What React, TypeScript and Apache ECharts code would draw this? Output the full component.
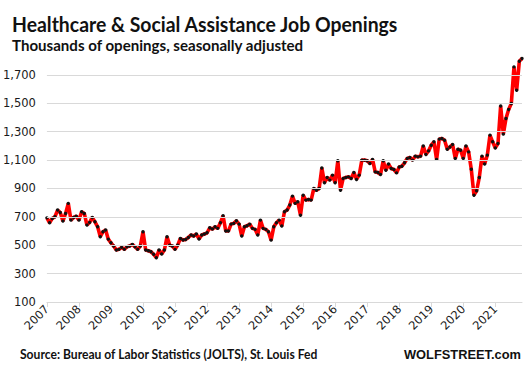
import React, { useEffect, useRef } from "react";
import * as echarts from "echarts";

// Monthly job openings (thousands), Jan 2007 – Nov 2021
const years = ["2007", "2008", "2009", "2010", "2011", "2012", "2013", "2014", "2015", "2016", "2017", "2018", "2019", "2020", "2021"];
const y2007 = [693, 658, 689, 701, 748, 731, 670, 724, 795, 677, 696, 705];
const y2008 = [677, 736, 724, 642, 661, 696, 665, 630, 560, 595, 607, 543];
const y2009 = [517, 494, 466, 471, 485, 471, 489, 494, 506, 489, 471, 494];
const y2010 = [595, 466, 461, 454, 436, 412, 466, 438, 466, 560, 501, 494];
const y2011 = [471, 501, 548, 537, 541, 555, 572, 565, 579, 544, 572, 579];
const y2012 = [588, 623, 614, 630, 619, 658, 708, 600, 600, 649, 654, 672];
const y2013 = [649, 565, 630, 637, 649, 619, 612, 572, 677, 619, 612, 595];
const y2014 = [536, 630, 658, 677, 635, 736, 748, 783, 846, 795, 806, 712];
const y2015 = [853, 818, 823, 818, 900, 888, 900, 1045, 940, 978, 959, 994];
const y2016 = [940, 1095, 888, 971, 978, 982, 971, 1013, 964, 994, 1100, 1100];
const y2017 = [1095, 1076, 1105, 1017, 1013, 999, 1095, 1029, 1072, 1041, 1034, 1010];
const y2018 = [1052, 1057, 1081, 1112, 1119, 1100, 1128, 1123, 1128, 1200, 1140, 1165];
const y2019 = [1205, 1229, 1105, 1248, 1252, 1240, 1177, 1193, 1210, 1112, 1177, 1170];
const y2020 = [1112, 1200, 1158, 1036, 853, 884, 978, 1128, 1072, 1135, 1276, 1229];
const y2021 = [1186, 1217, 1482, 1283, 1393, 1457, 1499, 1757, 1592, 1797, 1816];

const yearly = [y2007, y2008, y2009, y2010, y2011, y2012, y2013, y2014, y2015, y2016, y2017, y2018, y2019, y2020, y2021];
const yTicks = [100, 300, 500, 700, 900, 1100, 1300, 1500, 1700];

const titleText = "Healthcare & Social Assistance Job Openings";
const subtitleText = "Thousands of openings, seasonally adjusted";
const sourceText = "Source: Bureau of Labor Statistics (JOLTS), St. Louis Fed";
const brandText = "WOLFSTREET.com";

function fitScale(text: string, font: string, target: number): number {
  const ctx = document.createElement("canvas").getContext("2d");
  if (!ctx) return 1;
  ctx.font = font;
  const w = ctx.measureText(text).width;
  return w > 0 ? target / w : 1;
}

export default function App() {
  const ref = useRef<HTMLDivElement>(null);

  useEffect(() => {
    if (!ref.current) return;
    const chart = echarts.init(ref.current, undefined, { renderer: "svg" });

    const labels: string[] = [];
    const values: number[] = [];
    yearly.forEach((arr, yi) => {
      arr.forEach((v, m) => {
        labels.push(`${years[yi]}-${String(m + 1).padStart(2, "0")}`);
        values.push(v);
      });
    });

    const titleFont = "bold 20px Lato";
    const subFont = "bold 15px Lato";
    const srcFont = "bold 12.5px Lato";
    const brandFont = "bold 13px 'Liberation Sans'";

    chart.setOption({
      animation: false,
      backgroundColor: "#ffffff",
      grid: { left: 44, right: 5, top: 46.6, bottom: 71, containLabel: false },
      xAxis: {
        type: "category",
        boundaryGap: false,
        data: labels,
        axisLine: { show: true, lineStyle: { color: "#d9d9d9", width: 1 } },
        axisTick: {
          show: true,
          interval: (i: number) => i % 12 === 0,
          length: 5,
          lineStyle: { color: "#d9d9d9" },
        },
        axisLabel: {
          interval: (i: number) => i % 12 === 0,
          rotate: 45,
          margin: 5,
          formatter: (v: string) => v.slice(0, 4),
          fontSize: 11.5,
          fontFamily: "DejaVu Sans",
          color: "#1a1a1a",
        },
        splitLine: { show: false },
      },
      yAxis: {
        type: "value",
        min: 100,
        max: 1900,
        interval: 200,
        axisLine: { show: false },
        axisTick: { show: false },
        splitLine: { show: false },
        axisLabel: {
          showMaxLabel: false,
          margin: 11,
          formatter: (v: number) => v.toLocaleString("en-US"),
          fontSize: 11.5,
          fontFamily: "DejaVu Sans",
          color: "#1a1a1a",
        },
      },
      series: [
        {
          type: "line",
          data: [],
          z: 1,
          silent: true,
          markLine: {
            silent: true,
            symbol: "none",
            label: { show: false },
            lineStyle: { color: "#d9d9d9", width: 1, type: "solid" },
            data: yTicks.slice(1).map((v) => ({ yAxis: v })),
          },
        },
        {
          type: "line",
          data: values,
          z: 3,
          showSymbol: true,
          showAllSymbol: true,
          symbol: "circle",
          symbolSize: 3.4,
          itemStyle: { color: "#111111", borderWidth: 0 },
          lineStyle: { color: "#ff0000", width: 3.6 },
        },
      ],
      graphic: [
        {
          type: "text",
          x: 12,
          y: 24,
          scaleX: fitScale(titleText, titleFont, 387),
          style: {
            text: titleText,
            fontSize: 20,
            fontWeight: "bold",
            fontFamily: "Lato",
            fill: "#111111",
            verticalAlign: "middle",
            align: "left",
          },
        },
        {
          type: "text",
          x: 12,
          y: 45,
          scaleX: fitScale(subtitleText, subFont, 292),
          style: {
            text: subtitleText,
            fontSize: 15,
            fontWeight: "bold",
            fontFamily: "Lato",
            fill: "#111111",
            verticalAlign: "middle",
            align: "left",
          },
        },
        {
          type: "text",
          x: 20,
          y: 354,
          scaleX: fitScale(sourceText, srcFont, 298),
          style: {
            text: sourceText,
            fontSize: 12.5,
            fontWeight: "bold",
            fontFamily: "Lato",
            fill: "#111111",
            verticalAlign: "middle",
            align: "left",
          },
        },
        {
          type: "text",
          x: 404,
          y: 354,
          scaleX: fitScale(brandText, brandFont, 117),
          style: {
            text: brandText,
            fontSize: 13,
            fontWeight: "bold",
            fontFamily: "Liberation Sans",
            fill: "#111111",
            verticalAlign: "middle",
            align: "left",
          },
        },
      ],
    });

    return () => {
      chart.dispose();
    };
  }, []);

  return <div ref={ref} style={{ width: 527, height: 373, position: "absolute", left: 0, top: 0 }} />;
}
